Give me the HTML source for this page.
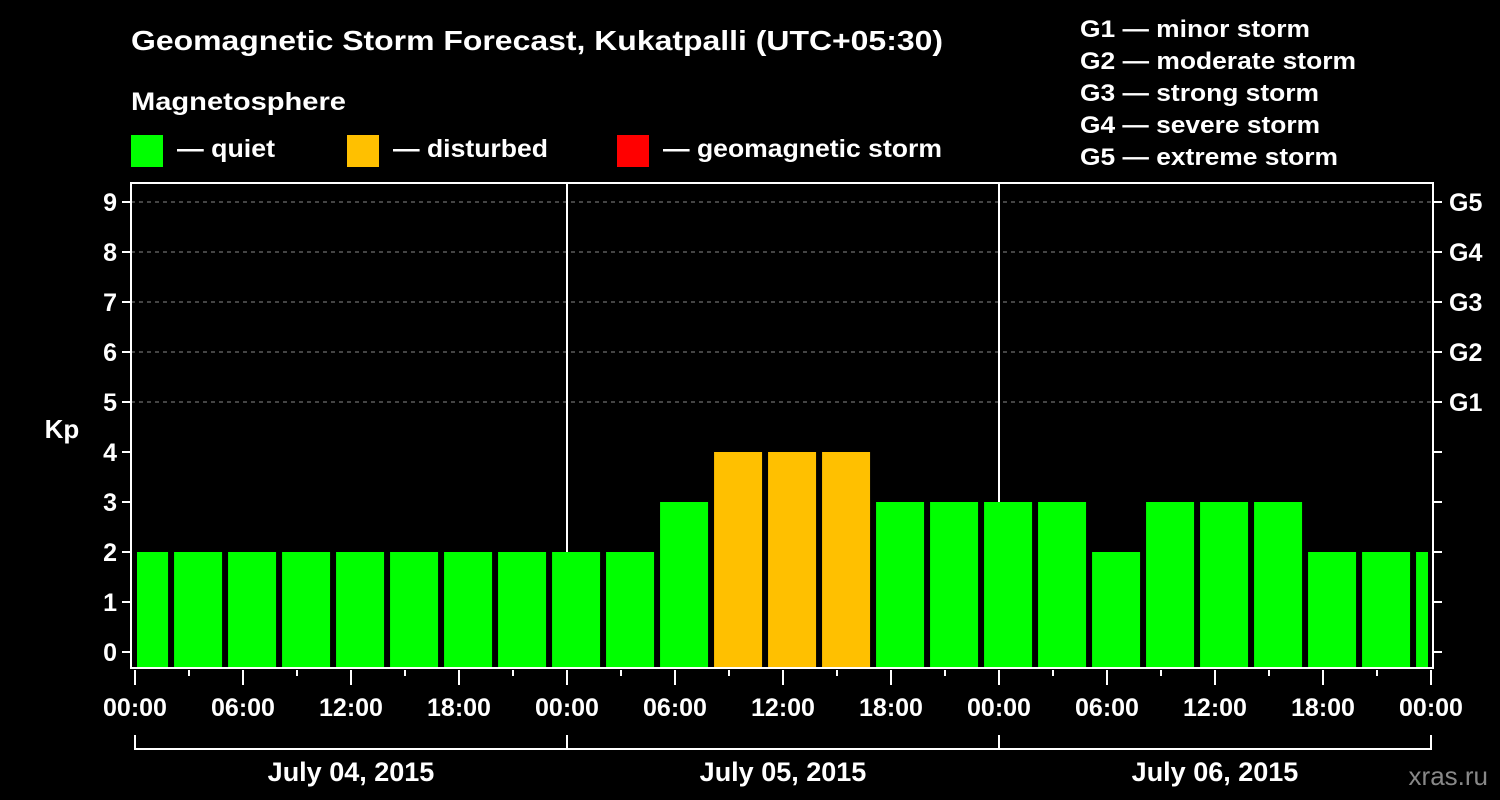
<!DOCTYPE html>
<html><head><meta charset="utf-8"><style>
body{margin:0;background:#000;}
svg{display:block;font-family:"Liberation Sans",Arial,sans-serif;font-weight:bold;}
</style></head><body>
<svg id="chart" width="1500" height="800" viewBox="0 0 1500 800">
<rect width="1500" height="800" fill="#000"/>
<text x="131" y="50" fill="#fff" font-size="28" textLength="812" lengthAdjust="spacingAndGlyphs">Geomagnetic Storm Forecast, Kukatpalli (UTC+05:30)</text>
<text x="131" y="110" fill="#fff" font-size="25" textLength="215" lengthAdjust="spacingAndGlyphs">Magnetosphere</text>
<g><rect x="131" y="135" width="32" height="32" fill="#00ff00"/><text x="177" y="157" fill="#fff" font-size="25" textLength="98" lengthAdjust="spacingAndGlyphs">— quiet</text></g>
<g><rect x="347" y="135" width="32" height="32" fill="#ffc000"/><text x="393" y="157" fill="#fff" font-size="25" textLength="155" lengthAdjust="spacingAndGlyphs">— disturbed</text></g>
<g><rect x="617" y="135" width="32" height="32" fill="#ff0000"/><text x="663" y="157" fill="#fff" font-size="25" textLength="279" lengthAdjust="spacingAndGlyphs">— geomagnetic storm</text></g>
<g fill="#fff" font-size="24">
<text x="1080" y="37" textLength="230" lengthAdjust="spacingAndGlyphs">G1 — minor storm</text>
<text x="1080" y="69" textLength="276" lengthAdjust="spacingAndGlyphs">G2 — moderate storm</text>
<text x="1080" y="101" textLength="239" lengthAdjust="spacingAndGlyphs">G3 — strong storm</text>
<text x="1080" y="133" textLength="240" lengthAdjust="spacingAndGlyphs">G4 — severe storm</text>
<text x="1080" y="165" textLength="258" lengthAdjust="spacingAndGlyphs">G5 — extreme storm</text>
</g>
<text x="62" y="438" fill="#fff" font-size="26" text-anchor="middle">Kp</text>
<text x="1488" y="785" fill="#888" font-size="26" text-anchor="end" font-weight="normal">xras.ru</text>
<g id="grid"></g><g id="bars"></g><g id="axes"></g>
</svg>
<script>
const kpValues=[2,2,2,2,2,2,2,2,2,2,3,4,4,4,3,3,3,3,2,3,3,3,2,2,2];
const yTicks=[0,1,2,3,4,5,6,7,8,9];
const gLabels=["G1","G2","G3","G4","G5"];
const hourLabels=["00:00","06:00","12:00","18:00"];
const dayLabels=["July 04, 2015","July 05, 2015","July 06, 2015"];
const NS="http://www.w3.org/2000/svg";
const L=131,R=1433,T=183,B=668,X0=135,PXH=18;
const y=v=>652-v*50;
const x=h=>X0+h*PXH;
function mk(tag,attrs,parent,text){const e=document.createElementNS(NS,tag);for(const k in attrs)e.setAttribute(k,attrs[k]);if(text!==undefined)e.textContent=text;parent.appendChild(e);return e;}
const grid=document.getElementById('grid'),bars=document.getElementById('bars'),axes=document.getElementById('axes');
for(let v=5;v<=9;v++){const l=mk('line',{x1:L,x2:R,y1:y(v),y2:y(v),stroke:'#888','stroke-dasharray':'4,4'},grid);

}
for(let d=1;d<3;d++){const l=mk('line',{x1:x(d*24),x2:x(d*24),y1:T,y2:B,stroke:'#fff','stroke-width':2},grid);

}
kpValues.forEach((v,i)=>{
 let a=x(3*i-0.83), b=a+48;
 a=Math.max(a,137); b=Math.min(b,1428);
 if(b<=a)return;
 const col=v>=5?'#ff0000':(v>=4?'#ffc000':'#00ff00');
 const r=mk('rect',{x:a,y:y(v),width:b-a,height:B-y(v),fill:col},bars);
 
 
});
mk('rect',{x:L,y:T,width:R-L,height:B-T,fill:'none',stroke:'#fff','stroke-width':2},axes);
yTicks.forEach(v=>{
 mk('line',{x1:L-9,x2:L,y1:y(v),y2:y(v),stroke:'#fff','stroke-width':2},axes);
 mk('line',{x1:R,x2:R+9,y1:y(v),y2:y(v),stroke:'#fff','stroke-width':2},axes);
 const t=mk('text',{x:L-14,y:y(v)+9,fill:'#fff','font-size':25,'text-anchor':'end'},axes,String(v));
 
 
});
gLabels.forEach((g,i)=>{const t=mk('text',{x:1449,y:y(5+i)+9,fill:'#fff','font-size':25},axes,g);
 
 });
for(let h=0;h<=72;h+=3){const major=h%6===0;
 mk('line',{x1:x(h),x2:x(h),y1:B+2,y2:B+(major?17:8),stroke:'#fff','stroke-width':2},axes);}
for(let h=0;h<=72;h+=6){const t=mk('text',{x:x(h),y:716,fill:'#fff','font-size':25,'text-anchor':'middle'},axes,hourLabels[(h/6)%4]);
 
 }
mk('path',{d:`M${x(0)} 735V749H${x(72)}V735M${x(24)} 735V749M${x(48)} 735V749`,fill:'none',stroke:'#fff','stroke-width':2},axes);
dayLabels.forEach((d,i)=>{const t=mk('text',{x:x(24*i+12),y:781,fill:'#fff','font-size':27,'text-anchor':'middle'},axes,d);
 
 });
</script>
</body></html>
